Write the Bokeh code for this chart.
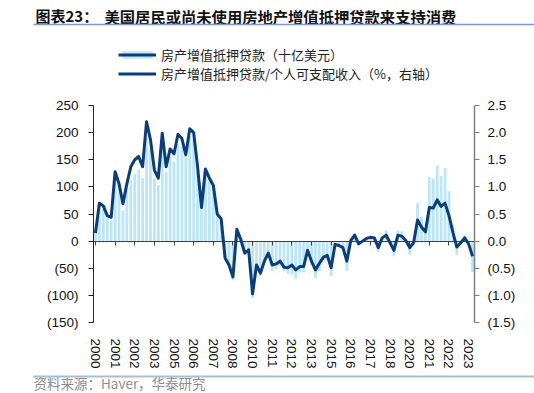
from bokeh.plotting import figure
from bokeh.models import (Range1d, LinearAxis, FixedTicker, CustomJSTickFormatter,
                          Legend, LegendItem, Label, BoxAnnotation)
from bokeh.embed import file_html
from bokeh.resources import INLINE

# ---------------- data (quarterly, 2000Q1 .. 2024Q1) ----------------
quarter_idx = list(range(97))

equity_loans_bn = [
    20, 65, 59, 45, 37, 122, 97, 56, 97, 112,
    124, 131, 116, 190, 169, 116, 103, 178, 128, 156,
    147, 178, 175, 153, 194, 190, 130, 60, 125, 110,
    98, 45, 35, -30, -45, -72, 15, 0, -25, -20,
    -105, -50, -65, -40, -25, -55, -52, -45, -55, -60,
    -62, -70, -58, -58, -25, -45, -68, -55, -38, -35,
    -65, -5, -8, -12, -55, 8, 15, -5, 2, 8,
    10, 8, -20, 8, 20, -5, -28, 20, 18, 3,
    -25, 0, 70, 45, 15, 118, 115, 140, 120, 135,
    92, 30, -25, 0, 12, 0, -57,
]

equity_loans_pct_dpi = [
    0.15, 0.70, 0.65, 0.47, 0.44, 1.28, 1.06, 0.69, 1.06, 1.37,
    1.50, 1.56, 1.37, 2.20, 1.87, 1.31, 1.16, 1.99, 1.37, 1.70,
    1.61, 1.97, 1.89, 1.59, 2.07, 2.00, 1.37, 0.62, 1.33, 1.16,
    1.03, 0.50, 0.41, -0.31, -0.44, -0.66, 0.22, 0.03, -0.22, -0.16,
    -0.97, -0.44, -0.59, -0.37, -0.22, -0.44, -0.42, -0.37, -0.48, -0.49,
    -0.44, -0.53, -0.47, -0.47, -0.17, -0.37, -0.53, -0.41, -0.30, -0.26,
    -0.49, -0.06, -0.08, -0.12, -0.37, 0.01, 0.11, -0.05, 0.00, 0.05,
    0.07, 0.06, -0.12, 0.06, 0.11, -0.03, -0.17, 0.11, 0.09, 0.01,
    -0.12, -0.03, 0.39, 0.26, 0.17, 0.62, 0.61, 0.76, 0.64, 0.70,
    0.47, 0.16, -0.11, -0.03, 0.06, -0.05, -0.28,
]

x_tick_pos = [0, 5, 10, 15, 20, 25, 30, 35, 40, 45,
              50, 55, 60, 65, 70, 75, 80, 85, 90, 95]
x_tick_labels = ["2000", "2001", "2002", "2003", "2005", "2006", "2007", "2008", "2010", "2011",
                 "2012", "2013", "2015", "2016", "2017", "2018", "2020", "2021", "2022", "2023"]
left_ticks = [-150, -100, -50, 0, 50, 100, 150, 200, 250]
right_ticks = [-1.5, -1.0, -0.5, 0.0, 0.5, 1.0, 1.5, 2.0, 2.5]

title_prefix = "图表23："
title_text = "美国居民或尚未使用房地产增值抵押贷款来支持消费"
legend_labels = ["房产增值抵押贷款（十亿美元）", "房产增值抵押贷款/个人可支配收入（%，右轴）"]
source_text = "资料来源：Haver，华泰研究"

# ---------------- layout constants (pixels) ----------------
W, H = 534, 393
PLOT_L, PLOT_R, PLOT_T, PLOT_B = 93, 474, 105, 322   # data area inside the canvas
X_MIN, X_MAX = -0.5, 96.5
Y_MIN, Y_MAX = -150, 250
PCT_PER_BN = 0.01

px_x = (PLOT_R - PLOT_L) / (X_MAX - X_MIN)
px_y = (PLOT_B - PLOT_T) / (Y_MAX - Y_MIN)
xr = Range1d(X_MIN - PLOT_L / px_x, X_MAX + (W - PLOT_R) / px_x)
yr_lo = Y_MIN - (H - PLOT_B) / px_y
yr_hi = Y_MAX + PLOT_T / px_y
yr = Range1d(yr_lo, yr_hi)

BAR_COLOR = "#BCE6F8"
LINE_COLOR = "#0A3D7C"
TITLE_RULE = "#7A9CC6"
FOOT_RULE = "#A9BDD6"
TICK_FONT = "Liberation Sans"
CJK_FONT = "Noto Sans CJK SC"

p = figure(width=W, height=H, output_backend="svg", toolbar_location=None,
           x_range=xr, y_range=yr, x_axis_type=None, y_axis_type=None, min_border=0)
p.outline_line_color = None
p.grid.visible = False
p.extra_y_ranges = {"pct": Range1d(yr_lo * PCT_PER_BN, yr_hi * PCT_PER_BN)}

bars_r = p.vbar(x=quarter_idx, top=equity_loans_bn, width=0.72,
                fill_color=BAR_COLOR, line_color=None)

# zero line with category tick marks (drawn under the ratio line)
za = LinearAxis(fixed_location=0, bounds=(X_MIN, X_MAX), ticker=FixedTicker(ticks=x_tick_pos),
                formatter=CustomJSTickFormatter(code="return '';"))
za.axis_line_color = "#404040"
za.major_tick_line_color = "#404040"
za.major_tick_out = 4
za.major_tick_in = 0
za.minor_tick_line_color = None
p.add_layout(za, "below")

line_r = p.line(x=quarter_idx, y=equity_loans_pct_dpi, y_range_name="pct",
                line_color=LINE_COLOR, line_width=3, line_join="round", level="overlay")

# year labels below the plot area
xa = LinearAxis(fixed_location=Y_MIN, bounds=(X_MIN, X_MAX), ticker=FixedTicker(ticks=x_tick_pos),
                major_label_overrides=dict(zip(x_tick_pos, x_tick_labels)))
xa.axis_line_color = None
xa.major_tick_line_color = None
xa.minor_tick_line_color = None
xa.major_label_orientation = "vertical"
xa.major_label_standoff = 10
xa.major_label_text_font = TICK_FONT
xa.major_label_text_font_size = "13.5px"
xa.major_label_text_color = "#111111"
p.add_layout(xa, "below")

ya = LinearAxis(fixed_location=X_MIN, bounds=(Y_MIN, Y_MAX), ticker=FixedTicker(ticks=left_ticks),
                formatter=CustomJSTickFormatter(code="return tick < 0 ? '(' + Math.abs(tick).toFixed(0) + ')' : tick.toFixed(0);"))
ya.axis_line_color = "#222222"
ya.major_tick_line_color = "#222222"
ya.major_tick_out = 5
ya.major_tick_in = 0
ya.minor_tick_line_color = None
ya.major_label_standoff = 10
ya.major_label_text_font = TICK_FONT
ya.major_label_text_font_size = "13.5px"
ya.major_label_text_color = "#111111"
p.add_layout(ya, "left")

ra = LinearAxis(y_range_name="pct", fixed_location=X_MAX,
                bounds=(Y_MIN * PCT_PER_BN, Y_MAX * PCT_PER_BN),
                ticker=FixedTicker(ticks=right_ticks),
                formatter=CustomJSTickFormatter(code="return tick < 0 ? '(' + Math.abs(tick).toFixed(1) + ')' : tick.toFixed(1);"))
ra.axis_line_color = "#7F7F7F"
ra.axis_line_width = 1.5
ra.major_tick_line_color = "#7F7F7F"
ra.major_tick_out = 5
ra.major_tick_in = 0
ra.minor_tick_line_color = None
ra.major_label_standoff = 8
ra.major_label_text_font = TICK_FONT
ra.major_label_text_font_size = "13.5px"
ra.major_label_text_color = "#111111"
p.add_layout(ra, "right")

# legend (location = bottom-left corner, measured from canvas bottom-left)
legend = Legend(items=[LegendItem(label=legend_labels[0], renderers=[bars_r, line_r]),
                       LegendItem(label=legend_labels[1], renderers=[line_r])],
                location=(118, H - 83), orientation="vertical")
legend.glyph_width = 38
legend.glyph_height = 9
legend.label_height = 19
legend.label_standoff = 5
legend.spacing = 0
legend.padding = 0
legend.margin = 0
legend.border_line_color = None
legend.background_fill_alpha = 0
legend.label_text_font = CJK_FONT
legend.label_text_font_size = "13px"
legend.label_text_color = "#222222"
p.add_layout(legend)

# title, rules and source (screen units from canvas bottom-left)
p.add_layout(Label(x=35, y=H - 15, x_units="screen", y_units="screen", text=title_prefix,
                   text_font=CJK_FONT, text_font_size="15px", text_font_style="bold",
                   text_baseline="middle", text_color="#111111"))
p.add_layout(Label(x=104, y=H - 15, x_units="screen", y_units="screen", text=title_text,
                   text_font=CJK_FONT, text_font_size="15.3px", text_font_style="bold",
                   text_baseline="middle", text_color="#111111"))
p.add_layout(BoxAnnotation(left=33, right=W, bottom=H - 24.75, top=H - 23.25,
                           left_units="screen", right_units="screen",
                           bottom_units="screen", top_units="screen",
                           fill_color=TITLE_RULE, fill_alpha=1, line_color=None))
p.add_layout(BoxAnnotation(left=33, right=W, bottom=H - 377, top=H - 375,
                           left_units="screen", right_units="screen",
                           bottom_units="screen", top_units="screen",
                           fill_color=FOOT_RULE, fill_alpha=1, line_color=None))
p.add_layout(Label(x=33, y=H - 382, x_units="screen", y_units="screen", text=source_text,
                   text_font=CJK_FONT, text_font_size="13.5px",
                   text_baseline="middle", text_color="#8C8C8C"))

open("out.html", "w").write(file_html(p, INLINE))
